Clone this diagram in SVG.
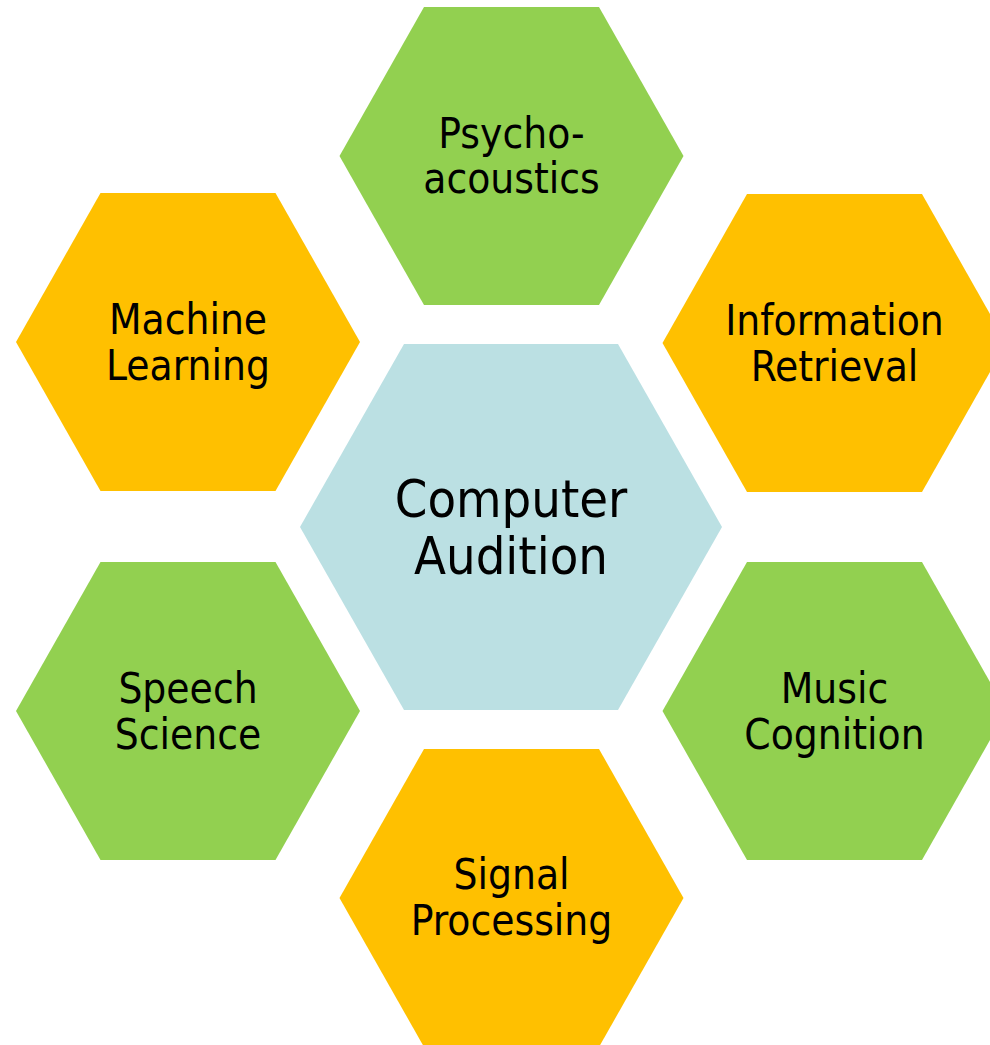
<svg xmlns="http://www.w3.org/2000/svg" width="990" height="1045" viewBox="0 0 990 1045">
  <style>
    .green { fill: #92D050; }
    .orange { fill: #FFC000; }
    .core { fill: #BBE0E3; }
    text { font-family: 'DejaVu Sans Condensed', 'DejaVu Sans', sans-serif; font-stretch: condensed; fill: #000; text-anchor: middle; }
    .lbl { font-size: 42px; }
    .big { font-size: 52px; }
  </style>
  <defs>
    <!-- unit outer hexagon: flat top/bottom, 344 x 298 -->
    <polygon id="hex" points="-172,0 -87.5,-149 87.5,-149 172,0 87.5,149 -87.5,149"/>
  </defs>
  <rect width="990" height="1045" fill="#fff"/>
  <g id="connectors"/>

  <g id="center">
    <polygon class="core" points="300,527 404,344 618,344 722,527 618,710 404,710"/>
    <text class="big" x="511" y="517">Computer</text>
    <text class="big" x="511" y="574">Audition</text>
  </g>

  <g id="psychoacoustics">
    <use href="#hex" class="green" x="511.5" y="156"/>
    <text class="lbl" x="511.5" y="148">Psycho-</text>
    <text class="lbl" x="511.5" y="193">acoustics</text>
  </g>

  <g id="machine-learning">
    <use href="#hex" class="orange" x="188" y="342"/>
    <text class="lbl" x="188" y="334">Machine</text>
    <text class="lbl" x="188" y="380">Learning</text>
  </g>

  <g id="information-retrieval">
    <use href="#hex" class="orange" x="834.5" y="343"/>
    <text class="lbl" x="834.5" y="335">Information</text>
    <text class="lbl" x="834.5" y="381">Retrieval</text>
  </g>

  <g id="speech-science">
    <use href="#hex" class="green" x="188" y="711"/>
    <text class="lbl" x="188" y="703">Speech</text>
    <text class="lbl" x="188" y="749">Science</text>
  </g>

  <g id="music-cognition">
    <use href="#hex" class="green" x="834.5" y="711"/>
    <text class="lbl" x="834.5" y="703">Music</text>
    <text class="lbl" x="834.5" y="749">Cognition</text>
  </g>

  <g id="signal-processing">
    <use href="#hex" class="orange" x="511.5" y="898"/>
    <text class="lbl" x="511.5" y="889">Signal</text>
    <text class="lbl" x="511.5" y="935">Processing</text>
  </g>
</svg>
